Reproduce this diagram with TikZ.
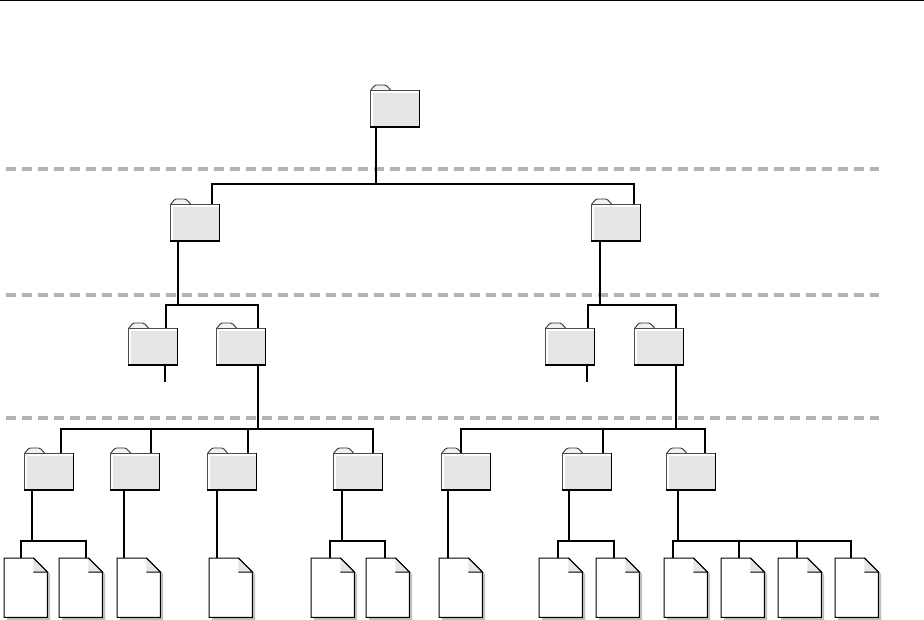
\documentclass[tikz,border=0pt]{standalone}
\usepackage{xcolor}
\usetikzlibrary{positioning,calc}
\definecolor{folderfill}{HTML}{E4E6E5}
\definecolor{levelgray}{HTML}{B4B4B4}
\definecolor{shadowgray}{HTML}{BDBDBD}
\tikzset{
  folderbox/.style={draw=black!70, line width=0.8pt, fill=white, inner sep=0pt, minimum width=48.5pt, minimum height=36pt, anchor=north west,
    path picture={\fill[folderfill] ([xshift=3pt,yshift=-3pt]path picture bounding box.north west) rectangle (path picture bounding box.south east);}},
  foldertab/.style={draw=black!80, line width=0.9pt, fill=folderfill!50, rounded corners=1.5pt},
  filebox/.style={inner sep=0pt, minimum width=43pt, minimum height=59pt, anchor=north west},
  fileline/.style={draw, line width=1pt, fill=white, line join=miter},
  treeline/.style={line width=2.4pt, line cap=butt},
  levelline/.style={levelgray, line width=3.5pt, dash pattern=on 10pt off 6pt}
}
\newcommand{\foldernode}[3]{%
  \fill[shadowgray!40] (#2+1.5,#3+2) rectangle (#2+50,#3+37);
  \draw[foldertab] (#2+0.5,#3+0.5) -- (#2+5,#3-5) -- (#2+16,#3-5) -- (#2+21,#3+0.5);
  \node[folderbox] (#1) at (#2,#3) {};
  \draw[line width=1.5pt] (#1.north east) -- (#1.south east) -- (#1.south west);
}
\newcommand{\filenode}[2]{%
  \fill[shadowgray] (#2+3,558+3) -- (#2+32,558+3) -- (#2+46,572+2) -- (#2+46,617+3) -- (#2+3,617+3) -- cycle;
  \node[filebox] (#1) at (#2,558) {};
  \draw[fileline] (#1.north west) -- ([xshift=-14pt]#1.north east) -- ([yshift=-14pt]#1.north east) -- (#1.south east) -- (#1.south west) -- cycle;
  \fill[folderfill] ([xshift=-14pt]#1.north east) -- ([yshift=-14pt]#1.north east) -- ([xshift=-14pt,yshift=-14pt]#1.north east) -- cycle;
  \draw[line width=1pt] ([xshift=-14pt,yshift=-14pt]#1.north east) -- ([yshift=-14pt]#1.north east) -- ([xshift=-14pt]#1.north east);
}
\begin{document}
\begin{tikzpicture}[x=1pt,y=-1pt]
  \useasboundingbox (0,0) rectangle (924,620);
  \draw[line width=1pt] (0,1) -- (924,1);

  \foreach \ypos in {169,295,418}
    \draw[levelline] (6,\ypos) -- (879,\ypos);

  % folders
  \foldernode{root}{370}{90}
  \foreach \fname/\xpos in {fa/170,fb/591} {
    \foldernode{\fname}{\xpos}{204}
  }
  \foreach \fname/\xpos in {ga/128,gb/216,gc/545,gd/634} {
    \foldernode{\fname}{\xpos}{328}
  }
  \foreach \fname/\xpos in {ha/24,hb/110,hc/207,hd/333,he/441,hf/562,hg/666} {
    \foldernode{\fname}{\xpos}{453}
  }

  % files
  \foreach \dname/\xpos in {da/4,db/59,dc/117,dd/209,de/311,df/366,dg/439,dh/539,di/596,dj/664,dk/721,dl/778,dm/835} {
    \filenode{\dname}{\xpos}
  }

  % buses
  \coordinate (busroot) at (376,184);
  \coordinate (busfa) at (178,305);
  \coordinate (busfb) at (600,305);
  \coordinate (busgb) at (258,429);
  \coordinate (busgd) at (676,429);
  \coordinate (busha) at (32,541);
  \coordinate (bushd) at (342,541);
  \coordinate (bushf) at (569,541);
  \coordinate (bushg) at (678,541);
  \coordinate (stubga) at (165,382);
  \coordinate (stubgc) at (587,382);

  \draw[treeline] (root.south -| busroot) -- (busroot);
  \draw[treeline] ([xshift=17.5pt]fa.north) |- (busroot) -| ([xshift=18.5pt]fb.north);

  \draw[treeline] (fa.south -| busfa) -- (busfa);
  \draw[treeline] ([xshift=13.5pt]ga.north) |- (busfa) -| (gb.north -| busgb);
  \draw[treeline] (fb.south -| busfb) -- (busfb);
  \draw[treeline] ([xshift=18.5pt]gc.north) |- (busfb) -| (gd.north -| busgd);

  \draw[treeline] (ga.south -| stubga) -- (stubga);
  \draw[treeline] (gc.south -| stubgc) -- (stubgc);

  \draw[treeline] (gb.south -| busgb) -- (busgb);
  \draw[treeline] ([xshift=37pt]ha.north west) |- (busgb);
  \draw[treeline] (busgb) -| ([xshift=40pt]hd.north west);
  \draw[treeline] ([xshift=41pt]hb.north west) -- ++(0,-24);
  \draw[treeline] ([xshift=41pt]hc.north west) -- ++(0,-24);

  \draw[treeline] (gd.south -| busgd) -- (busgd);
  \draw[treeline] ([xshift=20pt]he.north west) |- (busgd);
  \draw[treeline] (busgd) -| ([xshift=39pt]hg.north west);
  \draw[treeline] ([xshift=41pt]hf.north west) -- ++(0,-24);

  \draw[treeline] (ha.south -| busha) -- (busha);
  \draw[treeline] ([xshift=17pt]da.north west) |- (busha) -| ([xshift=27pt]db.north west);
  \draw[treeline] ([xshift=14pt]hb.south west) -- ([xshift=7pt]dc.north west);
  \draw[treeline] ([xshift=10pt]hc.south west) -- ([xshift=8pt]dd.north west);
  \draw[treeline] (hd.south -| bushd) -- (bushd);
  \draw[treeline] ([xshift=19pt]de.north west) |- (bushd) -| ([xshift=19pt]df.north west);
  \draw[treeline] ([xshift=7pt]he.south west) -- ([xshift=9pt]dg.north west);
  \draw[treeline] (hf.south -| bushf) -- (bushf);
  \draw[treeline] ([xshift=19pt]dh.north west) |- (bushf) -| ([xshift=18pt]di.north west);
  \draw[treeline] (hg.south -| bushg) -- (bushg);
  \draw[treeline] ([xshift=9pt]dj.north west) |- (bushg) -| ([xshift=16pt]dm.north west);
  \draw[treeline] ([xshift=18pt]dk.north west) -- ++(0,-17);
  \draw[treeline] ([xshift=19pt]dl.north west) -- ++(0,-17);
\end{tikzpicture}
\end{document}
